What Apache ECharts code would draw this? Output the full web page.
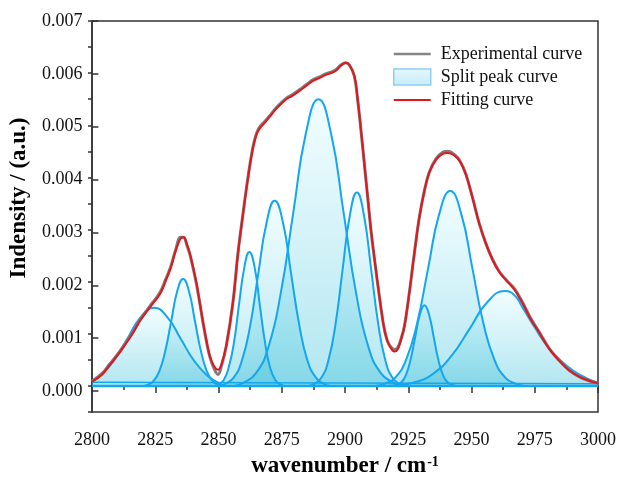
<!DOCTYPE html>
<html>
<head>
<meta charset="utf-8">
<script src="https://cdn.jsdelivr.net/npm/echarts@6/dist/echarts.min.js"></script>
<style>
html,body{margin:0;padding:0;background:#fff;}
#chart{width:619px;height:483px;}
</style>
</head>
<body>
<div id="chart"></div>
<script>
// ---- data ----
const xTicks = [2800, 2825, 2850, 2875, 2900, 2925, 2950, 2975, 3000];
const yTicks = [0, 0.001, 0.002, 0.003, 0.004, 0.005, 0.006, 0.007];

const fitX = [2800,2804,2807,2810,2812.5,2816,2819,2822,2824,2826,2827.5,2829,2831,2833,2835,2836.2,2837.5,2838.7,2840,2841.3,2842.6,2843.9,2845.2,2846.5,2848,2849.8,2851.2,2853.1,2855.7,2857.7,2859.7,2861.7,2863.6,2865,2866.3,2868,2870.2,2872.9,2876.8,2879,2882,2885,2887.3,2890,2892.6,2895,2896.5,2898.5,2900.3,2901.8,2903.7,2905,2906.4,2907.7,2909,2910.3,2911.9,2913.6,2915.3,2916.5,2917.6,2919.5,2920.8,2922.2,2923.5,2925.4,2927.4,2929.4,2931.4,2933.3,2936,2938.6,2940.6,2943.2,2945.5,2947.8,2950.4,2953.1,2955.7,2958.3,2960.9,2963.6,2966.9,2970.1,2973.4,2976.7,2980.7,2984.6,2988.6,2992.5,2996.5,3000];
const fitY = [0.00008,0.00022,0.0004,0.00058,0.00075,0.001,0.00125,0.00145,0.00158,0.0017,0.00182,0.002,0.00225,0.00258,0.00283,0.00285,0.00272,0.00254,0.00227,0.00197,0.0016,0.00122,0.00088,0.00059,0.0004,0.00031,0.00042,0.00078,0.0016,0.00254,0.0033,0.004,0.00456,0.00482,0.00494,0.00503,0.00516,0.00532,0.0055,0.00556,0.00566,0.00577,0.00585,0.00591,0.00597,0.00601,0.00605,0.00615,0.0062,0.00615,0.00595,0.0055,0.00487,0.00424,0.00361,0.00298,0.00235,0.00172,0.00115,0.0009,0.00077,0.00066,0.0007,0.0009,0.00115,0.00178,0.00254,0.00324,0.00374,0.00409,0.00434,0.00445,0.00447,0.00442,0.0043,0.00405,0.00361,0.00311,0.00273,0.00242,0.00219,0.00203,0.00185,0.00159,0.00128,0.00103,0.00071,0.00049,0.0003,0.00018,0.0001,0.00005];
const expY = [0.00009,0.00024,0.00042,0.0006,0.00077,0.00102,0.00127,0.00147,0.0016,0.00173,0.00185,0.00203,0.00227,0.0026,0.00285,0.00285,0.0027,0.00252,0.00225,0.00195,0.00159,0.00121,0.00086,0.00057,0.00036,0.00022,0.00039,0.00077,0.0016,0.00255,0.00331,0.00402,0.00458,0.00484,0.00497,0.00506,0.00518,0.00534,0.00552,0.00558,0.00568,0.00579,0.00587,0.00593,0.00599,0.00603,0.00607,0.00616,0.0062,0.00615,0.00594,0.00549,0.00486,0.00423,0.0036,0.00297,0.00234,0.00171,0.00115,0.0009,0.00078,0.0007,0.00073,0.00091,0.00115,0.00178,0.00254,0.00324,0.00375,0.0041,0.00436,0.00448,0.0045,0.00444,0.00431,0.00406,0.00361,0.00311,0.00273,0.00243,0.0022,0.00204,0.00187,0.00161,0.0013,0.00104,0.00072,0.00049,0.0003,0.00018,0.0001,0.00005];

const peak1 = [[2800,0.00009],[2803.5,0.0002],[2808.75,0.00049],[2814,0.00091],[2819.25,0.00132],[2824.5,0.0015],[2829.75,0.00132],[2835,0.00091],[2840.25,0.00049],[2845.5,0.0002],[2850,0.00006],[2852,0]];
const peak2 = [[2820.5,0],[2821.9,0.00002],[2824.25,0.00009],[2826.6,0.00028],[2828.95,0.00067],[2831.3,0.00124],[2833.65,0.00181],[2836,0.00205],[2838.35,0.00181],[2840.7,0.00124],[2843.05,0.00067],[2845.4,0.00028],[2847.75,0.00009],[2850.1,0.00002],[2851.5,0]];
const peak3 = [[2848.5,0],[2849.9,0.00003],[2852,0.00011],[2854,0.00035],[2856.1,0.00083],[2858.1,0.00156],[2860.2,0.00227],[2862.2,0.00257],[2864.3,0.00227],[2866.3,0.00156],[2868.4,0.00083],[2870.4,0.00035],[2872.5,0.00011],[2874.5,0.00003],[2876,0]];
const peak4 = [[2850.5,0],[2852.7,0.00004],[2856,0.00016],[2859.2,0.00048],[2862.5,0.00115],[2865.7,0.00215],[2869,0.00313],[2872.2,0.00355],[2875.5,0.00313],[2878.7,0.00215],[2882,0.00115],[2885.2,0.00048],[2888.5,0.00016],[2891.7,0.00004],[2894,0]];
const peak5 = [[2856,0],[2859.8,0.00006],[2864.75,0.00024],[2869.7,0.00074],[2874.65,0.00179],[2879.6,0.00334],[2884.55,0.00485],[2889.5,0.0055],[2894.45,0.00485],[2899.4,0.00334],[2904.35,0.00179],[2909.3,0.00074],[2914.25,0.00024],[2919.2,0.00006],[2922,0]];
const peak6 = [[2885.5,0],[2887.9,0.00004],[2890.7,0.00016],[2893.5,0.0005],[2896.3,0.0012],[2899.1,0.00225],[2901.9,0.00327],[2904.7,0.00371],[2907.5,0.00327],[2910.3,0.00225],[2913.1,0.0012],[2915.9,0.0005],[2918.7,0.00016],[2921.5,0.00004],[2924,0]];
const peak7 = [[2919,0],[2920.45,0.00002],[2922.3,0.00007],[2924.1,0.00021],[2925.9,0.0005],[2927.75,0.00094],[2929.6,0.00137],[2931.4,0.00155],[2933.2,0.00137],[2935.05,0.00094],[2936.9,0.0005],[2938.7,0.00021],[2940.5,0.00007],[2942.35,0.00002],[2944,0]];
const peak8 = [[2912,0],[2915.5,0.00004],[2919.85,0.00016],[2924.2,0.00051],[2928.55,0.00121],[2932.9,0.00227],[2937.25,0.0033],[2941.6,0.00374],[2945.95,0.0033],[2950.3,0.00227],[2954.65,0.00121],[2959,0.00051],[2963.35,0.00016],[2967.7,0.00004],[2971,0]];
const peak9 = [[2917,0],[2921.3,0.00002],[2928.3,0.00008],[2935.3,0.00025],[2942.3,0.00059],[2949.3,0.0011],[2956.3,0.00161],[2963.3,0.00182],[2967,0.00174],[2970,0.00152],[2975,0.00112],[2980,0.00076],[2985,0.0005],[2990,0.0003],[2995,0.00016],[3000,0.00006]];
const baselineX = [2800, 3000];
const baselineY = [0.00007, 0.00004];
const zeroY = [0, 0];

// ---- chart ----
const FONT = '"Liberation Serif", "Times New Roman", serif';
const AXIS_COLOR = '#333';
const BLUE = '#14a6ef';
const peaks = [peak1, peak2, peak3, peak4, peak5, peak6, peak7, peak8, peak9];

const areaGrad = () => new echarts.graphic.LinearGradient(0, 0, 0, 1, [
  {offset: 0, color: 'rgba(220,251,255,0.55)'},
  {offset: 1, color: 'rgba(66,194,219,0.58)'}
]);

const series = [];
peaks.forEach(p => {
  series.push({
    name: 'Split peak curve', type: 'line', data: p, smooth: 0.5,
    symbol: 'none', xAxisIndex: 0, yAxisIndex: 0,
    lineStyle: {color: BLUE, width: 2}, itemStyle: {color: BLUE},
    areaStyle: {color: areaGrad(), origin: 'auto'}, z: 2
  });
});
series.push({
  name: 'baseline', type: 'line', symbol: 'none', z: 3,
  data: baselineX.map((x, i) => [x, baselineY[i]]),
  lineStyle: {color: BLUE, width: 1.5}
});
series.push({
  name: 'zero', type: 'line', symbol: 'none', z: 3,
  data: baselineX.map((x, i) => [x, zeroY[i]]),
  lineStyle: {color: BLUE, width: 2.5}
});
series.push({
  name: 'Experimental curve', type: 'line', symbol: 'none', smooth: 0.4, z: 4,
  data: fitX.map((x, i) => [x, expY[i]]),
  lineStyle: {color: '#7d7d7d', width: 3}, itemStyle: {color: '#7d7d7d'}
});
series.push({
  name: 'Fitting curve', type: 'line', symbol: 'none', smooth: 0.4, z: 5,
  data: fitX.map((x, i) => [x, fitY[i]]),
  lineStyle: {color: '#e8141b', width: 2}, itemStyle: {color: '#e8141b'}
});

const chart = echarts.init(document.getElementById('chart'), null, {renderer: 'canvas'});
chart.setOption({
  animation: false,
  backgroundColor: '#fff',
  grid: [
    {left: 92, right: 20, top: 21, bottom: 65, show: true, borderColor: AXIS_COLOR, borderWidth: 1.5, backgroundColor: 'transparent'},
    {left: 92, right: 20, top: 21, height: 370, show: false}
  ],
  legend: {
    left: 388, top: 40, orient: 'vertical',
    itemWidth: 37, itemHeight: 16, itemGap: 5,
    textStyle: {fontFamily: FONT, fontSize: 18, color: '#111', padding: [0, 0, 0, 5]},
    data: [
      {name: 'Experimental curve', icon: 'path://M0,0 L37,0 L37,2.4 L0,2.4 Z', itemStyle: {color: '#858585'}},
      {name: 'Split peak curve', icon: 'rect', itemStyle: {
        color: new echarts.graphic.LinearGradient(0, 0, 0, 1, [
          {offset: 0, color: '#e4f8fd'}, {offset: 1, color: '#c6ecf8'}]),
        borderColor: '#8ccff3', borderWidth: 1.5}},
      {name: 'Fitting curve', icon: 'path://M0,0 L37,0 L37,2 L0,2 Z', itemStyle: {color: '#e8141b'}}
    ]
  },
  xAxis: [
    {
      type: 'value', gridIndex: 0, min: xTicks[0], max: xTicks[xTicks.length - 1], interval: xTicks[1] - xTicks[0],
      axisLine: {show: true, lineStyle: {color: AXIS_COLOR, width: 1.5}},
      axisTick: {show: true, inside: false, length: 7, lineStyle: {color: AXIS_COLOR, width: 1.5}},
      minorTick: {show: true, splitNumber: 2, length: 4, lineStyle: {color: AXIS_COLOR, width: 1.5}},
      axisLabel: {fontFamily: FONT, fontSize: 18, color: '#111', margin: 19, formatter: v => String(v)},
      splitLine: {show: false},
      name: 'wavenumber / cm{sup|-1}', nameLocation: 'middle', nameGap: 43,
      nameTextStyle: {fontFamily: FONT, fontSize: 23, fontWeight: 'bold', color: '#000',
        rich: {sup: {fontFamily: FONT, fontSize: 14, fontWeight: 'bold', color: '#000', verticalAlign: 'top', padding: [0, 0, 8, 1]}}}
    },
    {type: 'value', gridIndex: 1, min: 0, max: 1, show: false}
  ],
  yAxis: [
    {
      type: 'value', gridIndex: 0, min: -0.0005, max: 0.007, interval: 0.0005,
      axisLine: {show: true, lineStyle: {color: AXIS_COLOR, width: 1.5}},
      axisTick: {show: true, inside: false, length: 4, lineStyle: {color: AXIS_COLOR, width: 1.5}},
      axisLabel: {show: false},
      splitLine: {show: false}
    },
    {
      type: 'value', gridIndex: 1, min: yTicks[0], max: yTicks[yTicks.length - 1], interval: yTicks[1] - yTicks[0],
      axisLine: {show: false},
      axisTick: {show: true, inside: false, length: 7, lineStyle: {color: AXIS_COLOR, width: 1.5}},
      axisLabel: {fontFamily: FONT, fontSize: 18, color: '#111', margin: 16, formatter: v => v.toFixed(3)},
      splitLine: {show: false},
      name: 'Indensity / (a.u.)', nameLocation: 'middle', nameGap: 53,
      nameTextStyle: {fontFamily: FONT, fontSize: 23, fontWeight: 'bold', color: '#000', padding: [0, 0, 0, 16]}
    }
  ],
  series: series
});
</script>
</body>
</html>
